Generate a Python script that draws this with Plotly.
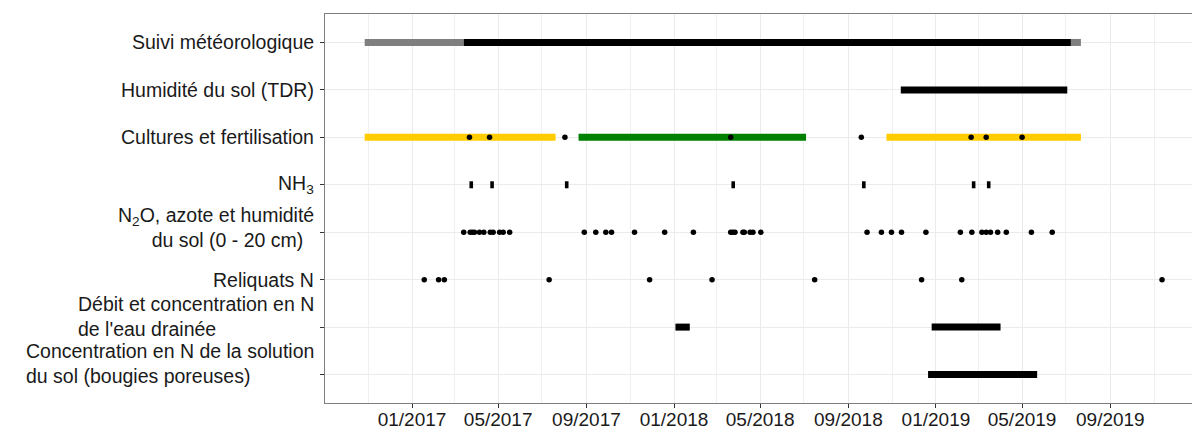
import plotly.graph_objects as go

# ---------------- data ----------------
categories = [
    "Suivi météorologique",
    "Humidité du sol (TDR)",
    "Cultures et fertilisation",
    "NH<sub>3</sub>",
    "N<sub>2</sub>O, azote et humidité<br>du sol (0 - 20 cm)\u00a0\u00a0",
    "Reliquats N",
    "Débit et concentration en N<br>de l'eau drainée",
    "Concentration en N de la solution<br>du sol (bougies poreuses)",
]

meteo_grey_start = ["2016-10-27", "2019-07-08"]
meteo_grey_end = ["2017-03-14", "2019-07-22"]
meteo_black_start = ["2017-03-14"]
meteo_black_end = ["2019-07-08"]

tdr_start = ["2018-11-13"]
tdr_end = ["2019-07-03"]

crop_yellow_start = ["2016-10-27", "2018-10-24"]
crop_yellow_end = ["2017-07-20", "2019-07-22"]
crop_green_start = ["2017-08-21"]
crop_green_end = ["2018-07-04"]
fertilisation_dates = ["2017-03-22", "2017-04-19", "2017-08-02", "2018-03-21",
                       "2018-09-19", "2019-02-19", "2019-03-12", "2019-05-01"]

nh3_start = ["2017-03-22", "2017-04-20", "2017-08-02", "2018-03-22",
             "2018-09-20", "2019-02-20", "2019-03-13"]
nh3_end = ["2017-03-27", "2017-04-25", "2017-08-07", "2018-03-27",
           "2018-09-25", "2019-02-25", "2019-03-18"]

n2o_dates = ["2017-03-14", "2017-03-23", "2017-03-26", "2017-03-29", "2017-04-05",
             "2017-04-11", "2017-04-20", "2017-04-24", "2017-05-03", "2017-05-08",
             "2017-05-17", "2017-08-29", "2017-09-14", "2017-09-28", "2017-10-06",
             "2017-11-07", "2017-12-19", "2018-01-28", "2018-03-21", "2018-03-24",
             "2018-03-27", "2018-04-07", "2018-04-09", "2018-04-17", "2018-04-21",
             "2018-05-02", "2018-09-27", "2018-10-17", "2018-10-31", "2018-11-14",
             "2018-12-18", "2019-02-04", "2019-02-20", "2019-03-06", "2019-03-12",
             "2019-03-18", "2019-03-28", "2019-04-09", "2019-05-14", "2019-06-12"]

reliquats_dates = ["2017-01-18", "2017-02-07", "2017-02-15", "2017-07-11", "2017-11-28",
                   "2018-02-23", "2018-07-16", "2018-12-12", "2019-02-06", "2019-11-12"]

drain_start = ["2018-01-03", "2018-12-26"]
drain_end = ["2018-01-23", "2019-04-01"]

cups_start = ["2018-12-21"]
cups_end = ["2019-05-22"]

tick_dates = ["2017-01-01", "2017-05-01", "2017-09-01", "2018-01-01", "2018-05-01",
              "2018-09-01", "2019-01-01", "2019-05-01", "2019-09-01"]
tick_labels = ["01/2017", "05/2017", "09/2017", "01/2018", "05/2018",
               "09/2018", "01/2019", "05/2019", "09/2019"]
minor_dates = ["2016-11-01", "2017-03-01", "2017-07-01", "2017-11-01", "2018-03-01",
               "2018-07-01", "2018-11-01", "2019-03-01", "2019-07-01", "2019-11-01"]


# ---------------- helpers ----------------
def segments(starts, ends, cat):
    xs, ys = [], []
    for s, e in zip(starts, ends):
        xs += [s, e, None]
        ys += [cat, cat, None]
    return xs, ys


FONT = "Liberation Sans, Arial, sans-serif"
FS = 19.5
fig = go.Figure()


def add_bars(starts, ends, cat, color, width=7):
    xs, ys = segments(starts, ends, cat)
    fig.add_trace(go.Scatter(x=xs, y=ys, mode="lines",
                             line=dict(color=color, width=width),
                             showlegend=False, hoverinfo="skip"))


def add_points(dates, cat):
    fig.add_trace(go.Scatter(x=dates, y=[cat] * len(dates), mode="markers",
                             marker=dict(color="black", size=5.5),
                             showlegend=False))


add_bars(meteo_grey_start, meteo_grey_end, categories[0], "#7F7F7F")
add_bars(meteo_black_start, meteo_black_end, categories[0], "black")
add_bars(tdr_start, tdr_end, categories[1], "black")
add_bars(crop_yellow_start, crop_yellow_end, categories[2], "#FFCC00")
add_bars(crop_green_start, crop_green_end, categories[2], "#008000")
add_points(fertilisation_dates, categories[2])
add_bars(nh3_start, nh3_end, categories[3], "black")
add_points(n2o_dates, categories[4])
add_points(reliquats_dates, categories[5])
add_bars(drain_start, drain_end, categories[6], "black")
add_bars(cups_start, cups_end, categories[7], "black")

# y labels as annotations (block right-aligned, lines aligned as in original)
label_align = ["right", "right", "right", "right", "right", "right", "left", "left"]
label_yshift = [0, 0, 0, 0, 5, 0, 11, 11]
for cat, al, ysh in zip(categories, label_align, label_yshift):
    fig.add_annotation(x=0, xref="paper", xanchor="right", xshift=-9,
                       y=cat, yref="y", yanchor="middle", yshift=ysh,
                       text=cat, align=al, showarrow=False,
                       font=dict(family=FONT, size=FS, color="#1a1a1a"))

# figure slightly wider than the window so the panel runs off the right edge
fig.update_layout(
    width=1200, height=430,
    margin=dict(l=325, r=0, t=14, b=27, autoexpand=False),
    plot_bgcolor="white", paper_bgcolor="white",
    font=dict(family=FONT, size=FS, color="#1a1a1a"),
    showlegend=False,
)

fig.update_xaxes(
    type="date",
    range=["2016-09-01 17:00", "2020-01-03 22:00"],
    tickmode="array", tickvals=tick_dates, ticktext=tick_labels,
    ticks="outside", ticklen=4, tickcolor="#333333", tickwidth=1,
    ticklabelstandoff=-5,
    showgrid=True, gridcolor="#EBEBEB", gridwidth=1.1,
    minor=dict(tickvals=minor_dates, showgrid=True, gridcolor="#F0F0F0", gridwidth=0.7, ticks=""),
    showline=True, linecolor="#7F7F7F", linewidth=1.3, mirror=True,
    zeroline=False, automargin=False,
    tickfont=dict(family=FONT, size=19, color="#1a1a1a"),
)

fig.update_yaxes(
    type="category", categoryorder="array", categoryarray=categories,
    range=[len(categories) - 1 + 0.6, -0.6],
    showticklabels=False,
    ticks="outside", ticklen=4, tickcolor="#333333", tickwidth=1,
    showgrid=True, gridcolor="#EBEBEB", gridwidth=1.1,
    showline=True, linecolor="#7F7F7F", linewidth=1.3, mirror=False,
    zeroline=False, automargin=False,
)

fig.write_html(
    "out.html",
    config={"displayModeBar": False},
    post_script="document.body.style.margin='0';document.body.style.padding='0';"
                "document.documentElement.style.overflow='hidden';"
                "document.body.style.overflow='hidden';",
)
